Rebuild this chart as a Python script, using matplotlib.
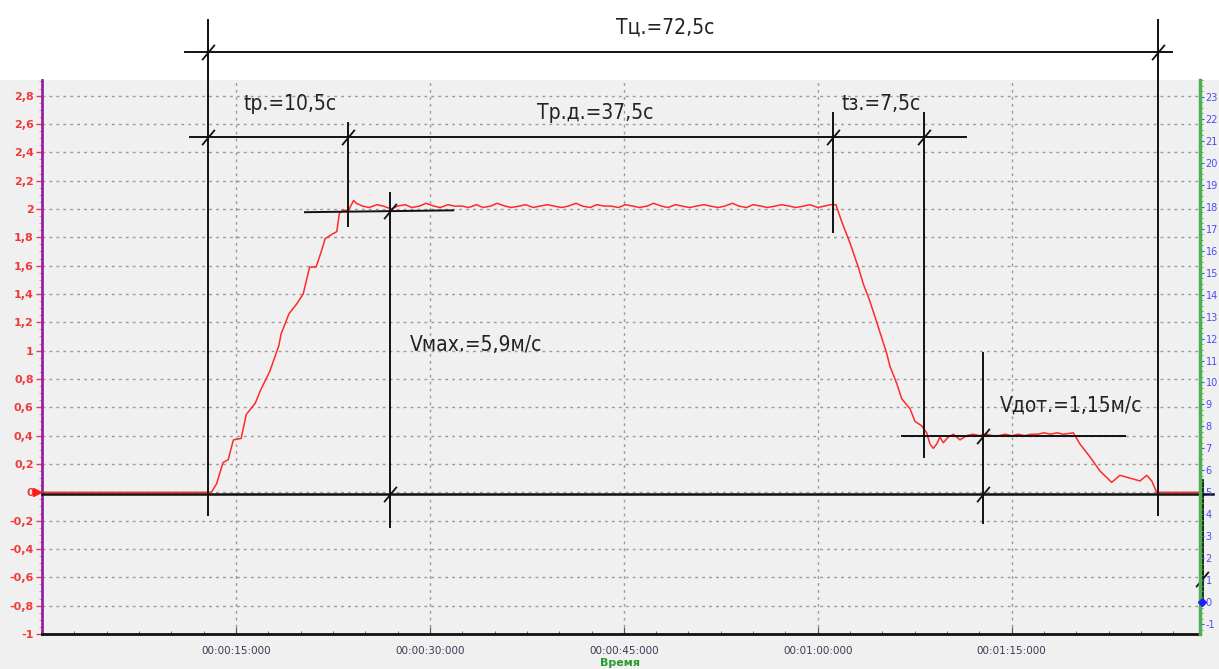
import matplotlib
matplotlib.use("Agg")
import matplotlib.pyplot as plt
from matplotlib.patches import Rectangle
from matplotlib.ticker import MultipleLocator, FuncFormatter

# ---------------- data ----------------
# time in seconds, speed in left-axis units
t_accel = [0.0, 13.1, 13.5, 14.0, 14.4, 14.8, 15.4, 15.8, 16.5, 16.9, 17.6, 18.3, 18.5,
           19.1, 19.7, 20.2, 20.7, 21.2, 21.6, 21.9, 22.4, 22.8, 23.0, 23.3, 23.7, 24.1, 24.3]
v_accel = [0.0, 0.0, 0.06, 0.21, 0.23, 0.37, 0.38, 0.55, 0.63, 0.72, 0.85, 1.03, 1.12,
           1.26, 1.33, 1.40, 1.59, 1.59, 1.70, 1.79, 1.82, 1.84, 1.97, 1.99, 1.99, 2.06, 2.04]

t_plateau = [24.8, 25.3, 25.9, 26.4, 27.0, 27.5, 28.1, 28.6, 29.2, 29.7,
             30.3, 30.8, 31.4, 31.9, 32.5, 33.0, 33.6, 34.1, 34.7, 35.2,
             35.8, 36.3, 36.9, 37.4, 38.0, 38.5, 39.1, 39.6, 40.2, 40.7,
             41.3, 41.8, 42.4, 42.9, 43.5, 44.0, 44.6, 45.1, 45.7, 46.2,
             46.8, 47.3, 47.9, 48.4, 49.0, 49.5, 50.1, 50.6, 51.2, 51.7,
             52.3, 52.8, 53.4, 53.9, 54.5, 55.0, 55.6, 56.1, 56.7, 57.2,
             57.8, 58.3, 58.9, 59.4, 60.0, 60.5, 61.0, 61.4]
v_plateau = [2.02, 2.01, 2.03, 2.02, 2.00, 2.02, 2.03, 2.01, 2.02, 2.04,
             2.02, 2.01, 2.03, 2.02, 2.02, 2.01, 2.03, 2.01, 2.02, 2.04,
             2.02, 2.01, 2.02, 2.03, 2.01, 2.02, 2.03, 2.02, 2.01, 2.02,
             2.04, 2.02, 2.01, 2.03, 2.02, 2.02, 2.01, 2.03, 2.02, 2.01,
             2.02, 2.04, 2.02, 2.01, 2.03, 2.02, 2.01, 2.02, 2.03, 2.02,
             2.01, 2.02, 2.04, 2.02, 2.01, 2.03, 2.02, 2.01, 2.02, 2.03,
             2.02, 2.01, 2.02, 2.03, 2.01, 2.02, 2.03, 2.03]

t_decel = [61.85, 62.49, 63.13, 63.52, 63.91, 64.42, 64.94, 65.33, 65.58, 66.10, 66.49,
           67.13, 67.52, 68.03, 68.42, 68.68, 68.93, 69.19, 69.45, 69.71, 70.09, 70.48,
           71.00, 71.52]
v_decel = [1.91, 1.76, 1.59, 1.47, 1.38, 1.24, 1.09, 0.98, 0.89, 0.77, 0.66,
           0.59, 0.50, 0.47, 0.42, 0.34, 0.31, 0.34, 0.39, 0.35, 0.39, 0.41,
           0.37, 0.40]

t_creep = [72.0, 72.5, 73.0, 73.5, 74.0, 74.5, 75.0, 75.5, 76.0, 76.5, 77.0, 77.5,
           78.0, 78.5, 79.0, 79.76]
v_creep = [0.41, 0.40, 0.41, 0.40, 0.40, 0.41, 0.40, 0.41, 0.40, 0.41, 0.41, 0.42,
           0.41, 0.42, 0.41, 0.42]

t_stop = [80.28, 81.05, 81.83, 82.73, 83.37, 84.15, 84.92, 85.44, 85.83, 86.21, 89.6]
v_stop = [0.34, 0.25, 0.15, 0.07, 0.12, 0.10, 0.08, 0.12, 0.08, 0.00, 0.00]

x_ticks = [15, 30, 45, 60, 75]
x_tick_labels = ["00:00:15:000", "00:00:30:000", "00:00:45:000", "00:01:00:000", "00:01:15:000"]

# annotation geometry (data units)
t_start, t_end = 12.84, 86.3
t_acc_end, t_dec_start, t_dec_end = 23.67, 61.15, 68.2
t_vmax, t_vdot = 26.9, 72.75
lvl_cycle, lvl_phase = 3.107, 2.507
v_max_lvl, v_dot_lvl = 1.985, 0.398

labels = {
    "cycle": "Тц.=72,5с",
    "acc": "tр.=10,5с",
    "run": "Тр.д.=37,5с",
    "dec": "tз.=7,5с",
    "vmax": "Vмах.=5,9м/с",
    "vdot": "Vдот.=1,15м/с",
}

# ---------------- figure ----------------
W, H = 1219, 669
fig = plt.figure(figsize=(W / 100, H / 100), dpi=100, facecolor="#f0f0f0")
fig.patches.append(Rectangle((0, (H - 80) / H), 1, 80 / H, transform=fig.transFigure,
                             facecolor="white", edgecolor="none", zorder=-10))

ax = fig.add_axes([42 / W, (H - 634) / H, (1200 - 42) / W, (634 - 80) / H])
ax.set_facecolor("#f0f0f0")
XMAX = 89.56
YMIN, YMAX = -1.0, 2.91
ax.set_xlim(0, XMAX)
ax.set_ylim(YMIN, YMAX)

# grid
ax.set_yticks([round(-1 + 0.2 * i, 1) for i in range(20)])
ax.set_xticks(x_ticks)
ax.set_xticklabels(x_tick_labels)
ax.grid(True, color="#9a9a9a", linestyle=(0, (2, 3)), linewidth=1)

ax.yaxis.set_major_formatter(FuncFormatter(
    lambda v, p: "0" if abs(v) < 1e-9 else (("%g" % round(v, 1)).replace(".", ","))))
ax.yaxis.set_minor_locator(MultipleLocator(0.05))
ax.xaxis.set_minor_locator(MultipleLocator(2.5))
ax.tick_params(axis="y", which="major", colors="#f03a3a", labelsize=8, length=4, width=1,
               pad=2)
ax.tick_params(axis="y", which="minor", color="#a0a0a0", length=2)
ax.tick_params(axis="x", which="major", direction="in", length=5, labelsize=7.5,
               labelcolor="#3a3a55", color="#555555", pad=9)
ax.tick_params(axis="x", which="minor", direction="in", length=2, color="#555555")
for lab in ax.get_yticklabels():
    lab.set_fontweight("bold")

ax.spines["top"].set_visible(False)
ax.spines["right"].set_visible(False)
ax.spines["left"].set_color("#9b1fa3")
ax.spines["left"].set_linewidth(2)
ax.spines["bottom"].set_color("#111111")
ax.spines["bottom"].set_linewidth(2)

# right axis
ratio = 6.45
ax2 = ax.twinx()
ax2.set_ylim(5 + YMIN * ratio, 5 + YMAX * ratio)
ax2.yaxis.set_major_locator(MultipleLocator(1))
ax2.yaxis.set_minor_locator(MultipleLocator(0.25))
ax2.yaxis.set_major_formatter(FuncFormatter(lambda v, p: "%d" % round(v)))
ax2.tick_params(axis="y", which="major", colors="#4a4aff", labelsize=7, length=3, pad=1)
ax2.tick_params(axis="y", which="minor", color="#6a9a6a", length=2)
for s in ("top", "left", "bottom"):
    ax2.spines[s].set_visible(False)
ax2.spines["right"].set_color("#4fb04f")
ax2.spines["right"].set_linewidth(2.5)

# zero reference line (black) and speed trace (red)
ax.plot([0, 90.6], [-0.01, -0.01], color="#111111", lw=1.8, zorder=3, clip_on=False)
t_all = t_accel + t_plateau + t_decel + t_creep + t_stop
v_all = v_accel + v_plateau + v_decel + v_creep + v_stop
ax.plot(t_all, v_all, color="#ff2a2a", lw=1.1, zorder=4)

# annotation lines
L = dict(color="#111111", lw=1.4, zorder=5, clip_on=False)
ax.plot([t_start, t_start], [3.333, -0.162], **L)
ax.plot([t_end, t_end], [3.333, -0.162], **L)
ax.plot([11.06, 87.4], [lvl_cycle, lvl_cycle], **L)
ax.plot([11.45, 71.5], [lvl_phase, lvl_phase], **L)
ax.plot([t_acc_end, t_acc_end], [2.61, 1.88], **L)
ax.plot([t_dec_start, t_dec_start], [2.68, 1.84], **L)
ax.plot([t_dec_end, t_dec_end], [2.68, 0.25], **L)
ax.plot([20.34, 31.8], [1.977, 1.99], **L)
ax.plot([t_vmax, t_vmax], [2.11, -0.245], **L)
ax.plot([66.49, 83.76], [v_dot_lvl, v_dot_lvl], **L)
ax.plot([t_vdot, t_vdot], [0.98, -0.22], **L)
ax.plot([89.72, 89.72], [0.085, -0.78], color="#111111", lw=2, zorder=6, clip_on=False)

# architectural tick slashes
slash = [(-1, -1.2), (1, 1.2)]
sx = [t_start, t_end, t_start, t_acc_end, t_dec_start, t_dec_end, t_vmax, t_vmax,
      t_vdot, t_vdot, 89.72]
sy = [lvl_cycle, lvl_cycle, lvl_phase, lvl_phase, lvl_phase, lvl_phase, v_max_lvl, -0.01,
      v_dot_lvl, -0.01, -0.614]
ax.plot(sx, sy, linestyle="none", marker=slash, markersize=11, markeredgewidth=1.3,
        markeredgecolor="#111111", markerfacecolor="none", zorder=6, clip_on=False)

# small markers on the axes
ax.plot([-0.35], [0], marker=">", color="#ff1a1a", markersize=6, clip_on=False, zorder=7)
ax2.plot([XMAX + 0.15], [0], marker="D", color="#2020ff", markersize=4, clip_on=False,
         zorder=7)

# texts
fam = ["DejaVu Sans"]
T = dict(fontsize=15, color="#222222", family=fam, fontstretch="condensed",
         va="center", zorder=8)
ax.text(48.2, 3.277, labels["cycle"], ha="center", clip_on=False, **T)
ax.text(15.55, 2.74, labels["acc"], ha="left", **T)
ax.text(42.77, 2.68, labels["run"], ha="center", **T)
ax.text(64.9, 2.74, labels["dec"], ha="center", **T)
ax.text(28.46, 1.04, labels["vmax"], ha="left", **T)
ax.text(74.1, 0.614, labels["vdot"], ha="left", **T)

fig.text(620 / W, 1.5 / H, "Время", color="#2a9a2a", fontsize=8, fontweight="bold",
         ha="center", va="bottom")

fig.savefig("out.png", dpi=100, facecolor=fig.get_facecolor())
